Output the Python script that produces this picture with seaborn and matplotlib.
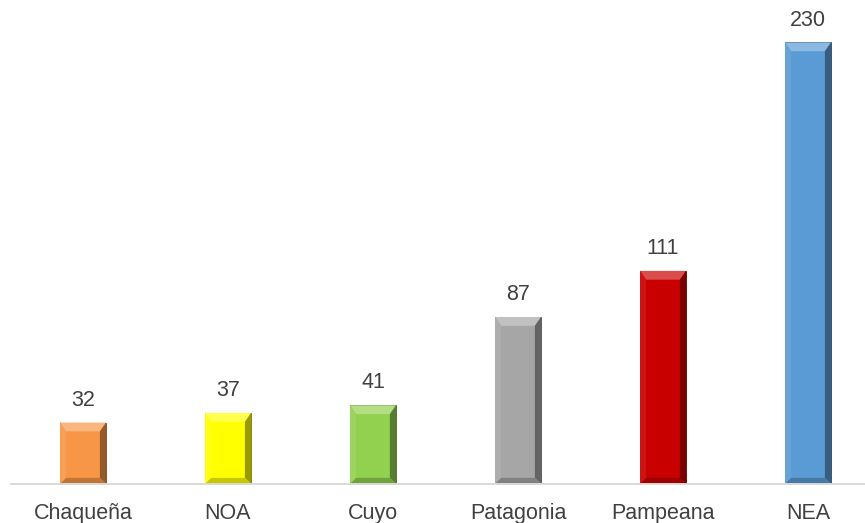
import matplotlib
matplotlib.use("Agg")
import matplotlib.pyplot as plt
import matplotlib.colors as mcolors
from matplotlib.patches import Polygon
import seaborn as sns
import pandas as pd

# data
regions = ["Chaqueña", "NOA", "Cuyo", "Patagonia", "Pampeana", "NEA"]
values = [32, 37, 41, 87, 111, 230]
bar_colors = ["#F79646", "#FFFF00", "#92D050", "#A6A6A6", "#C80000", "#5B9BD5"]

df = pd.DataFrame({"region": regions, "value": values})

sns.set_theme(style="white")
plt.rcParams["font.family"] = ["Liberation Sans", "DejaVu Sans"]

fig = plt.figure(figsize=(8.65, 5.23), dpi=100)
# plot area runs a little past the right edge, like in the original
ax = fig.add_axes([10.5 / 865, 39 / 523, 870 / 865, 1 - 43 / 523])

sns.barplot(data=df, x="region", y="value", hue="region", palette=bar_colors,
            width=0.317, legend=False, ax=ax, saturation=1)

ax.set_ylim(0, 250)
ax.set_xlim(-0.5, len(regions) - 0.5)


def shade(color, f):
    r, g, b = mcolors.to_rgb(color)
    if f >= 0:
        return (r + (1 - r) * f, g + (1 - g) * f, b + (1 - b) * f)
    return (r * (1 + f), g * (1 + f), b * (1 + f))


# fake bevel on each bar, based on its own geometry
dx = 0.042
dy_top = 4.6
dy_bot = 3.2
for patch, col, v in zip(ax.patches, bar_colors, values):
    x0 = patch.get_x()
    w = patch.get_width()
    h = patch.get_height()
    x1 = x0 + w
    patch.set_edgecolor(shade(col, -0.55))
    patch.set_linewidth(0.6)
    ix0, ix1 = x0 + dx, x1 - dx
    iy0, iy1 = dy_bot, h - dy_top
    # top face
    ax.add_patch(Polygon([(x0, h), (x1, h), (ix1, iy1), (ix0, iy1)],
                         closed=True, color=shade(col, 0.3), lw=0))
    # left face
    ax.add_patch(Polygon([(x0, 0), (x0, h), (ix0, iy1), (ix0, iy0)],
                         closed=True, color=shade(col, 0.08), lw=0))
    # right face
    ax.add_patch(Polygon([(x1, 0), (x1, h), (ix1, iy1), (ix1, iy0)],
                         closed=True, color=shade(col, -0.4), lw=0))
    # bottom face
    ax.add_patch(Polygon([(x0, 0), (x1, 0), (ix1, iy0), (ix0, iy0)],
                         closed=True, color=shade(col, -0.22), lw=0))
    ax.annotate(str(v), (x0 + w / 2, h), xytext=(0, 8.5), textcoords="offset points",
                ha="center", va="bottom", fontsize=15.5, color="#404040")

sns.despine(ax=ax, left=True)
ax.spines["bottom"].set_color("#D9D9D9")
ax.spines["bottom"].set_linewidth(1.4)
ax.set_yticks([])
ax.set_xlabel("")
ax.set_ylabel("")
ax.tick_params(axis="x", length=0, pad=14, labelsize=15.5, labelcolor="#404040")

fig.savefig("out.png", dpi=100)
